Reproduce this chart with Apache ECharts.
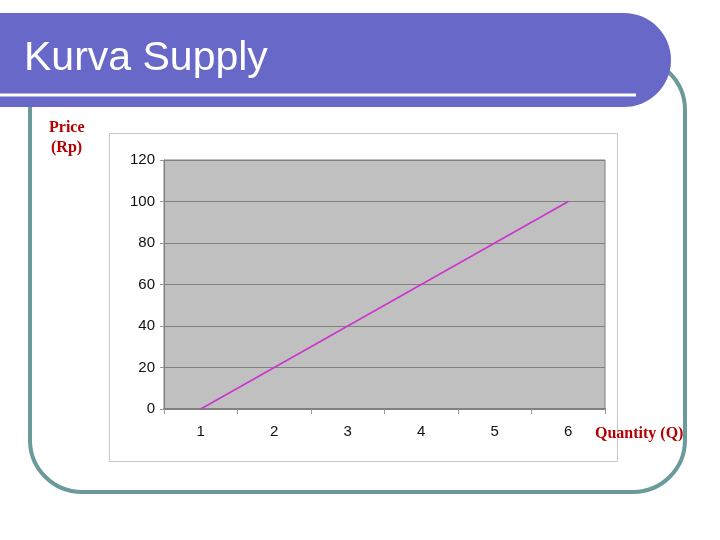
<!DOCTYPE html>
<html>
<head>
<meta charset="utf-8">
<script src="https://cdn.jsdelivr.net/npm/echarts@6/dist/echarts.min.js"></script>
<style>html,body{margin:0;padding:0;background:#fff;}#c{width:720px;height:540px;}</style>
</head>
<body>
<div id="c"></div>
<script>
var categories = ['1', '2', '3', '4', '5', '6'];
var priceValues = [0, 20, 40, 60, 80, 100];
var titleText = 'Kurva Supply';
var yLabel = ['Price', '(Rp)'];
var xLabel = 'Quantity (Q)';

var chart = echarts.init(document.getElementById('c'), null, {renderer: 'canvas'});
chart.setOption({
  animation: false,
  backgroundColor: '#ffffff',
  grid: {
    left: 164, right: 115, top: 160, bottom: 131,
    show: true, backgroundColor: '#C0C0C0', borderColor: '#808080', borderWidth: 1
  },
  xAxis: {
    type: 'category', data: categories, boundaryGap: true,
    axisLine: {show: true, lineStyle: {color: '#808080', width: 2}},
    axisTick: {show: true, length: 5, lineStyle: {color: '#999999'}},
    axisLabel: {color: '#111', fontFamily: 'Liberation Sans, Arial', fontSize: 15, margin: 15},
    splitLine: {show: false}
  },
  yAxis: {
    type: 'value', min: 0, max: 120, interval: 20,
    axisLine: {show: true, lineStyle: {color: '#808080', width: 1}},
    axisTick: {show: true, length: 4, lineStyle: {color: '#999999'}},
    axisLabel: {color: '#111', fontFamily: 'Liberation Sans, Arial', fontSize: 15, margin: 9},
    splitLine: {show: true, lineStyle: {color: '#808080', width: 1}}
  },
  series: [{
    type: 'line', data: priceValues, symbol: 'none',
    lineStyle: {color: '#CC33CC', width: 1.5}, z: 5
  }],
  graphic: {elements: [
    {type: 'rect', z: 0, silent: true,
     shape: {x: 109.5, y: 133.5, width: 508, height: 328},
     style: {fill: 'none', stroke: '#C8C8C8', lineWidth: 1}},
    {type: 'rect', z: 1, silent: true,
     shape: {x: 30, y: 58, width: 655, height: 434, r: 52},
     style: {fill: 'none', stroke: '#6A9A9A', lineWidth: 4}},
    {type: 'rect', z: 2, silent: true,
     shape: {x: -60, y: 13, width: 731, height: 94, r: 47},
     style: {fill: '#6868C8'}},
    {type: 'rect', z: 3, silent: true,
     shape: {x: 0, y: 93.5, width: 636, height: 3},
     style: {fill: '#ffffff'}},
    {type: 'text', z: 4, silent: true, left: 24, top: 38,
     style: {text: titleText, fill: '#ffffff', font: '41px "Liberation Sans", Arial, sans-serif'}},
    {type: 'text', z: 4, silent: true, left: 49, top: 120,
     style: {text: yLabel[0], fill: '#B40000', font: 'bold 16px "Liberation Serif", "Times New Roman", serif'}},
    {type: 'text', z: 4, silent: true, left: 51, top: 140,
     style: {text: yLabel[1], fill: '#B40000', font: 'bold 16px "Liberation Serif", "Times New Roman", serif'}},
    {type: 'text', z: 4, silent: true, left: 595, top: 426,
     style: {text: xLabel, fill: '#B40000', font: 'bold 16px "Liberation Serif", "Times New Roman", serif'}}
  ]}
});
</script>
</body>
</html>
